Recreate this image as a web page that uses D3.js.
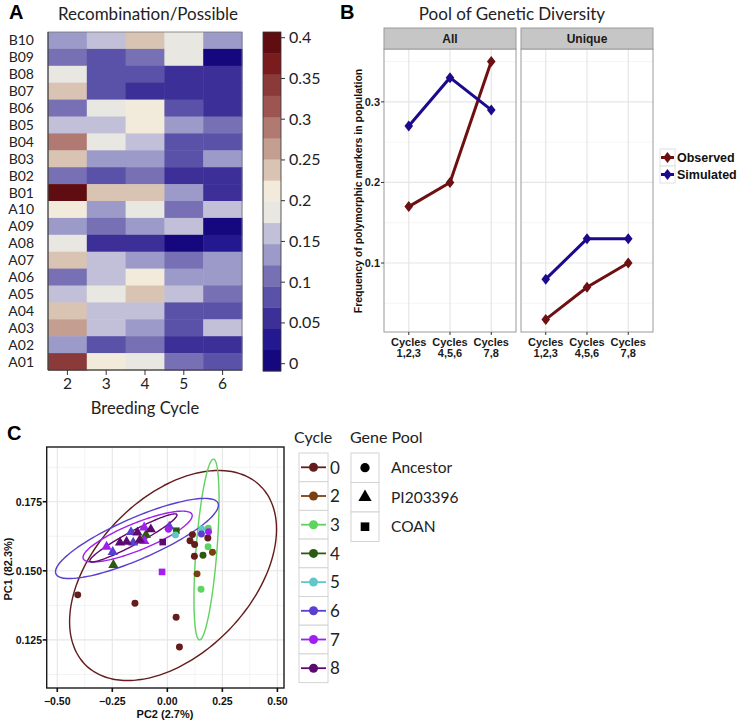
<!DOCTYPE html>
<html>
<head>
<meta charset="utf-8">
<script src="https://cdn.jsdelivr.net/npm/d3@7"></script>
<style>
body { margin: 0; background: #fff; }
svg { display: block; }
</style>
</head>
<body>
<script>
// ---------- panel A data ----------
let heatRows = ["B10","B09","B08","B07","B06","B05","B04","B03","B02","B01",
                "A10","A09","A08","A07","A06","A05","A04","A03","A02","A01"];
let heatCycles = ["2","3","4","5","6"];
let heatValues = [
  [0.13, 0.16, 0.24, 0.19, 0.13],
  [0.11, 0.08, 0.11, 0.19, 0.00],
  [0.19, 0.08, 0.08, 0.06, 0.06],
  [0.24, 0.08, 0.06, 0.06, 0.06],
  [0.11, 0.19, 0.21, 0.08, 0.06],
  [0.16, 0.16, 0.21, 0.13, 0.11],
  [0.29, 0.19, 0.16, 0.08, 0.08],
  [0.24, 0.13, 0.13, 0.08, 0.13],
  [0.11, 0.08, 0.11, 0.06, 0.06],
  [0.40, 0.24, 0.24, 0.13, 0.06],
  [0.21, 0.13, 0.19, 0.11, 0.16],
  [0.13, 0.11, 0.13, 0.16, 0.00],
  [0.19, 0.06, 0.06, 0.00, 0.03],
  [0.24, 0.16, 0.13, 0.11, 0.13],
  [0.11, 0.16, 0.21, 0.13, 0.13],
  [0.16, 0.19, 0.24, 0.16, 0.11],
  [0.24, 0.16, 0.16, 0.08, 0.08],
  [0.26, 0.16, 0.13, 0.08, 0.16],
  [0.13, 0.08, 0.11, 0.06, 0.06],
  [0.34, 0.21, 0.19, 0.11, 0.08]
];
let heatColors = ["#15087e","#231890","#3c2f98","#5a52a8","#7870b4","#9c9ac8","#c2c0d8","#e8e7e2",
                  "#f2ebdc","#d9c4b4","#c49e90","#b07a72","#9c5550","#8b3a3a","#7a1c1e","#5f0d10"];
let colorTicks = [0, 0.05, 0.1, 0.15, 0.2, 0.25, 0.3, 0.35, 0.4];

// ---------- panel B data ----------
let facets = ["All", "Unique"];
let periods = ["1,2,3", "4,5,6", "7,8"];
let observedAll = [0.17, 0.20, 0.35];
let simulatedAll = [0.27, 0.33, 0.29];
let observedUnique = [0.03, 0.07, 0.10];
let simulatedUnique = [0.08, 0.13, 0.13];
let freqTicks = [0.1, 0.2, 0.3];

// ---------- panel C data ----------
let cycleNames = ["0","2","3","4","5","6","7","8"];
let cycleColors = ["#641c1c","#7b4012","#5fd35f","#2b5a10","#63c7c7","#5a3fd0","#a020f0","#5c0a6e"];
let poolNames = ["Ancestor","PI203396","COAN"];
let pcaCycle = ["0","0","0","0","0","0","0","0","0",
                "2","2",
                "3","3","3",
                "4","4","4","4",
                "5","5",
                "6","6","6","6","6",
                "7","7","7","7","7","7",
                "8","8","8","8","8","8"];
let pcaPool = ["Ancestor","Ancestor","Ancestor","Ancestor","Ancestor","Ancestor","Ancestor","Ancestor","Ancestor",
               "Ancestor","Ancestor",
               "Ancestor","Ancestor","Ancestor",
               "Ancestor","PI203396","PI203396","COAN",
               "Ancestor","Ancestor",
               "Ancestor","PI203396","PI203396","PI203396","PI203396",
               "Ancestor","Ancestor","PI203396","PI203396","PI203396","COAN",
               "PI203396","PI203396","PI203396","PI203396","PI203396","COAN"];
let pcaPC2 = [-0.407, -0.147, 0.040, 0.055, 0.114, 0.103, 0.124, 0.123, 0.184,
              0.205, 0.135,
              0.153, 0.185, 0.186,
              0.162, -0.097, -0.245, 0.041,
              0.156, 0.037,
              0.155, -0.248, -0.155, -0.165, 0.009,
              0.187, 0.005, -0.105, -0.105, -0.276, -0.024,
              -0.215, -0.185, -0.136, -0.075, -0.125, -0.021];
let pcaPC1 = [0.1413, 0.1383, 0.1332, 0.1224, 0.1631, 0.1609, 0.1595, 0.1553, 0.1619,
              0.1567, 0.1489,
              0.1433, 0.1587, 0.1654,
              0.1556, 0.1630, 0.1521, 0.1645,
              0.1651, 0.1630,
              0.1633, 0.1568, 0.1602, 0.1640, 0.1660,
              0.1641, 0.1650, 0.1657, 0.1608, 0.1587, 0.1496,
              0.1602, 0.1605, 0.1639, 0.1650, 0.1612, 0.1604];
// confidence ellipses: centre, half ranges, correlation
let ellCycle = ["0", "3", "6", "7", "8"];
let ellCx = [0.026, 0.178, -0.138, -0.135, -0.154];
let ellCy = [0.1483, 0.1577, 0.1617, 0.1624, 0.1619];
let ellRx = [0.470, 0.057, 0.370, 0.248, 0.198];
let ellRy = [0.0380, 0.0327, 0.0145, 0.0092, 0.0087];
let ellRho = [0.44, 0.55, 0.83, 0.82, 0.95];
let pc2Ticks = [-0.5, -0.25, 0, 0.25, 0.5];
let pc1Ticks = [0.125, 0.15, 0.175];

let svg = d3.select("body").append("svg").attr("width", 744).attr("height", 721);
svg.append("rect").attr("width", 744).attr("height", 721).attr("fill", "white");

let sans = "Lato, 'Open Sans', sans-serif";
let bold = "'Liberation Sans', Arial, sans-serif";

// ================= Panel A =================
let gA = svg.append("g");
gA.append("text").attr("x", 9).attr("y", 19).text("A")
  .attr("font-family", bold).attr("font-weight", "bold").attr("font-size", 20);
gA.append("text").attr("x", 148).attr("y", 20).attr("text-anchor", "middle")
  .attr("font-family", sans).attr("font-size", 17).attr("fill", "#222").text("Recombination/Possible");

let xA = d3.scaleBand().domain(heatCycles).range([48, 242]);
let yA = d3.scaleBand().domain(heatRows).range([32, 370]);
let colorA = d3.scaleQuantize().domain([-0.009, 0.407]).range(heatColors);

let cells = [];
heatRows.forEach(function(r, i){
    heatCycles.forEach(function(c, j){
        cells.push({row: r, cycle: c, v: heatValues[i][j]});
    });
});
gA.selectAll("rect.cell").data(cells).enter().append("rect")
    .attr("class", "cell")
    .attr("x", function(d){ return xA(d.cycle); })
    .attr("y", function(d){ return yA(d.row); })
    .attr("width", xA.bandwidth() + 0.5)
    .attr("height", yA.bandwidth() + 0.5)
    .attr("fill", function(d){ return colorA(d.v); });
gA.append("rect").attr("x", 48).attr("y", 32).attr("width", 194).attr("height", 338)
    .attr("fill", "none").attr("stroke", "#777").attr("stroke-width", 0.8);
gA.append("line").attr("x1", 48).attr("x2", 48).attr("y1", 32).attr("y2", 370).attr("stroke", "#333");
gA.append("line").attr("x1", 48).attr("x2", 242).attr("y1", 370).attr("y2", 370).attr("stroke", "#333");

gA.selectAll("text.rowlab").data(heatRows).enter().append("text")
    .attr("class", "rowlab")
    .attr("x", 34).attr("y", function(d){ return yA(d) + yA.bandwidth()/2 + 5; })
    .attr("text-anchor", "end").attr("font-family", sans).attr("font-size", 14).attr("fill", "#222")
    .text(function(d){ return d; });
gA.selectAll("line.xt").data(heatCycles).enter().append("line")
    .attr("class", "xt")
    .attr("x1", function(d){ return xA(d) + xA.bandwidth()/2; })
    .attr("x2", function(d){ return xA(d) + xA.bandwidth()/2; })
    .attr("y1", 370).attr("y2", 375).attr("stroke", "#333");
gA.selectAll("text.collab").data(heatCycles).enter().append("text")
    .attr("class", "collab")
    .attr("x", function(d){ return xA(d) + xA.bandwidth()/2; })
    .attr("y", 389).attr("text-anchor", "middle")
    .attr("font-family", sans).attr("font-size", 15.5).attr("fill", "#222")
    .text(function(d){ return d; });
gA.append("text").attr("x", 145).attr("y", 414).attr("text-anchor", "middle")
    .attr("font-family", sans).attr("font-size", 16.5).attr("fill", "#222").text("Breeding Cycle");

// colour bar
let yBar = d3.scaleLinear().domain([-0.009, 0.407]).range([371, 32]);
gA.selectAll("rect.band").data(heatColors).enter().append("rect")
    .attr("class", "band")
    .attr("x", 263).attr("width", 18)
    .attr("y", function(d){ return yBar(colorA.invertExtent(d)[1]); })
    .attr("height", function(d){ let e = colorA.invertExtent(d); return yBar(e[0]) - yBar(e[1]) + 0.4; })
    .attr("fill", function(d){ return d; });
gA.append("rect").attr("x", 263).attr("y", 32).attr("width", 18).attr("height", 339)
    .attr("fill", "none").attr("stroke", "#333").attr("stroke-width", 0.8);
gA.selectAll("line.ct").data(colorTicks).enter().append("line")
    .attr("class", "ct")
    .attr("x1", 281).attr("x2", 285)
    .attr("y1", function(d){ return yBar(d); }).attr("y2", function(d){ return yBar(d); })
    .attr("stroke", "#333");
gA.selectAll("text.cl").data(colorTicks).enter().append("text")
    .attr("class", "cl")
    .attr("x", 289).attr("y", function(d){ return yBar(d) + 5.5; })
    .attr("font-family", sans).attr("font-size", 16).attr("fill", "#222")
    .text(function(d){ return d; });

// ================= Panel B =================
let gB = svg.append("g");
gB.append("text").attr("x", 340).attr("y", 19).text("B")
  .attr("font-family", bold).attr("font-weight", "bold").attr("font-size", 20);
gB.append("text").attr("x", 512).attr("y", 20).attr("text-anchor", "middle")
  .attr("font-family", sans).attr("font-size", 17).attr("fill", "#222").text("Pool of Genetic Diversity");

let yB = d3.scaleLinear().domain([0.0144, 0.3656]).range([332, 49]);
let panelX = {All: [384, 516], Unique: [521, 653]};
let seriesB = {
    All: [{name: "Observed", values: observedAll, color: "#6e0f12"},
          {name: "Simulated", values: simulatedAll, color: "#1b0b8c"}],
    Unique: [{name: "Observed", values: observedUnique, color: "#6e0f12"},
             {name: "Simulated", values: simulatedUnique, color: "#1b0b8c"}]
};
let diamond = "M0,-5.5L4.3,0L0,5.5L-4.3,0Z";
let minorTicks = [0.05, 0.15, 0.25, 0.35];

facets.forEach(function(f){
    let x0 = panelX[f][0], x1 = panelX[f][1];
    let xB = d3.scalePoint().domain(periods).range([x0, x1]).padding(0.6);
    let g = gB.append("g");
    g.append("rect").attr("x", x0).attr("y", 49).attr("width", x1 - x0).attr("height", 283).attr("fill", "white");
    g.selectAll("line.mn").data(minorTicks).enter().append("line")
        .attr("x1", x0).attr("x2", x1)
        .attr("y1", function(d){ return yB(d); }).attr("y2", function(d){ return yB(d); })
        .attr("stroke", "#f2f2f2").attr("stroke-width", 0.8);
    g.selectAll("line.mj").data(freqTicks).enter().append("line")
        .attr("x1", x0).attr("x2", x1)
        .attr("y1", function(d){ return yB(d); }).attr("y2", function(d){ return yB(d); })
        .attr("stroke", "#e6e6e6").attr("stroke-width", 1.2);
    g.selectAll("line.vx").data(periods).enter().append("line")
        .attr("x1", function(d){ return xB(d); }).attr("x2", function(d){ return xB(d); })
        .attr("y1", 49).attr("y2", 332)
        .attr("stroke", "#e6e6e6").attr("stroke-width", 1.2);
    let line = d3.line().x(function(d, i){ return xB(periods[i]); }).y(function(d){ return yB(d); });
    seriesB[f].forEach(function(s){
        g.append("path").attr("d", line(s.values)).attr("fill", "none")
            .attr("stroke", s.color).attr("stroke-width", 3);
        g.selectAll(null).data(s.values).enter().append("path")
            .attr("d", diamond)
            .attr("transform", function(d, i){ return "translate(" + xB(periods[i]) + "," + yB(d) + ")"; })
            .attr("fill", s.color);
    });
    g.append("rect").attr("x", x0).attr("y", 49).attr("width", x1 - x0).attr("height", 283)
        .attr("fill", "none").attr("stroke", "#9a9a9a").attr("stroke-width", 1);
    // strip
    g.append("rect").attr("x", x0).attr("y", 28).attr("width", x1 - x0).attr("height", 21)
        .attr("fill", "#c6c6c6").attr("stroke", "#9a9a9a").attr("stroke-width", 1);
    g.append("text").attr("x", (x0 + x1)/2).attr("y", 43).attr("text-anchor", "middle")
        .attr("font-family", bold).attr("font-weight", "bold").attr("font-size", 12).attr("fill", "#1a1a1a")
        .text(f);
    // x axis
    g.selectAll("line.xt").data(periods).enter().append("line")
        .attr("x1", function(d){ return xB(d); }).attr("x2", function(d){ return xB(d); })
        .attr("y1", 332).attr("y2", 335).attr("stroke", "#333");
    let lab = g.selectAll("text.xl").data(periods).enter().append("text")
        .attr("text-anchor", "middle").attr("font-family", bold).attr("font-weight", "bold")
        .attr("font-size", 11).attr("fill", "#1a1a1a");
    lab.append("tspan").attr("x", function(d){ return xB(d); }).attr("y", 346).text("Cycles");
    lab.append("tspan").attr("x", function(d){ return xB(d); }).attr("y", 357).text(function(d){ return d; });
});
// y axis of B
gB.selectAll("line.yt").data(freqTicks).enter().append("line")
    .attr("x1", 381).attr("x2", 384)
    .attr("y1", function(d){ return yB(d); }).attr("y2", function(d){ return yB(d); })
    .attr("stroke", "#333");
gB.selectAll("text.yl").data(freqTicks).enter().append("text")
    .attr("x", 380).attr("y", function(d){ return yB(d) + 4; }).attr("text-anchor", "end")
    .attr("font-family", bold).attr("font-weight", "bold").attr("font-size", 11).attr("fill", "#1a1a1a")
    .text(function(d){ return d; });
gB.append("text").attr("transform", "translate(362,191) rotate(-90)").attr("text-anchor", "middle")
    .attr("font-family", bold).attr("font-weight", "bold").attr("font-size", 10.5).attr("fill", "#111")
    .text("Frequency of polymorphic markers in population");
// legend of B
seriesB.All.forEach(function(s, i){
    let yy = 149 + i * 17;
    gB.append("rect").attr("x", 660).attr("y", yy).attr("width", 15).attr("height", 17)
        .attr("fill", "white").attr("stroke", "#e0e0e0");
    gB.append("line").attr("x1", 661).attr("x2", 674).attr("y1", yy + 8.5).attr("y2", yy + 8.5)
        .attr("stroke", s.color).attr("stroke-width", 3);
    gB.append("path").attr("d", diamond).attr("transform", "translate(667.5," + (yy + 8.5) + ")").attr("fill", s.color);
    gB.append("text").attr("x", 677).attr("y", yy + 13).attr("font-family", bold).attr("font-weight", "bold")
        .attr("font-size", 12.5).attr("fill", "#111").text(s.name);
});

// ================= Panel C =================
let gC = svg.append("g");
gC.append("text").attr("x", 7).attr("y", 440).text("C")
  .attr("font-family", bold).attr("font-weight", "bold").attr("font-size", 20);

let xC = d3.scaleLinear().domain([-0.548, 0.53]).range([46.7, 284]);
let yC = d3.scaleLinear().domain([0.1076, 0.1948]).range([688, 447]);
let cycColor = d3.scaleOrdinal().domain(cycleNames).range(cycleColors);

let pc2Minor = [-0.375, -0.125, 0.125, 0.375];
let pc1Minor = [0.1125, 0.1375, 0.1625, 0.1875];
gC.selectAll("line.gx").data(pc2Minor).enter().append("line")
    .attr("x1", function(d){ return xC(d); }).attr("x2", function(d){ return xC(d); })
    .attr("y1", 447).attr("y2", 688).attr("stroke", "#f3f3f3");
gC.selectAll("line.gy").data(pc1Minor).enter().append("line")
    .attr("y1", function(d){ return yC(d); }).attr("y2", function(d){ return yC(d); })
    .attr("x1", 46.7).attr("x2", 284).attr("stroke", "#f3f3f3");
gC.selectAll("line.gX").data(pc2Ticks).enter().append("line")
    .attr("x1", function(d){ return xC(d); }).attr("x2", function(d){ return xC(d); })
    .attr("y1", 447).attr("y2", 688).attr("stroke", "#e6e6e6").attr("stroke-width", 1.1);
gC.selectAll("line.gY").data(pc1Ticks).enter().append("line")
    .attr("y1", function(d){ return yC(d); }).attr("y2", function(d){ return yC(d); })
    .attr("x1", 46.7).attr("x2", 284).attr("stroke", "#e6e6e6").attr("stroke-width", 1.1);

// ellipses
let angles = d3.range(0, 361, 3).map(function(a){ return a * Math.PI / 180; });
ellCycle.forEach(function(c, k){
    let phi = Math.acos(ellRho[k]);
    let pts = angles.map(function(t){
        return [xC(ellCx[k] + ellRx[k] * Math.cos(t)), yC(ellCy[k] + ellRy[k] * Math.cos(t - phi))];
    });
    gC.append("path").attr("d", d3.line().curve(d3.curveCardinalClosed)(pts.slice(0, -1)))
        .attr("fill", "none").attr("stroke", cycColor(c)).attr("stroke-width", 1.4);
});

// points
let shapeFor = {Ancestor: d3.symbolCircle, PI203396: d3.symbolTriangle, COAN: d3.symbolSquare};
let sizeFor = {Ancestor: 38, PI203396: 46, COAN: 44};
let pts = pcaPC2.map(function(v, i){ return {pc2: v, pc1: pcaPC1[i], cycle: pcaCycle[i], pool: pcaPool[i]}; });
gC.selectAll("path.pt").data(pts).enter().append("path")
    .attr("class", "pt")
    .attr("d", function(d){ return d3.symbol().type(shapeFor[d.pool]).size(sizeFor[d.pool])(); })
    .attr("transform", function(d){ return "translate(" + xC(d.pc2) + "," + yC(d.pc1) + ")"; })
    .attr("fill", function(d){ return cycColor(d.cycle); });

gC.append("rect").attr("x", 46.7).attr("y", 447).attr("width", 237.3).attr("height", 241)
    .attr("fill", "none").attr("stroke", "#1a1a1a").attr("stroke-width", 1.4);

gC.selectAll("line.xt").data(pc2Ticks).enter().append("line")
    .attr("x1", function(d){ return xC(d); }).attr("x2", function(d){ return xC(d); })
    .attr("y1", 688).attr("y2", 692).attr("stroke", "#111").attr("stroke-width", 1.6);
gC.selectAll("text.xl").data(pc2Ticks).enter().append("text")
    .attr("x", function(d){ return xC(d); }).attr("y", 705).attr("text-anchor", "middle")
    .attr("font-family", bold).attr("font-weight", "bold").attr("font-size", 10.5).attr("fill", "#111")
    .text(function(d){ return d3.format(".2f")(d); });
gC.selectAll("line.yt").data(pc1Ticks).enter().append("line")
    .attr("y1", function(d){ return yC(d); }).attr("y2", function(d){ return yC(d); })
    .attr("x1", 42.7).attr("x2", 46.7).attr("stroke", "#111").attr("stroke-width", 1.6);
gC.selectAll("text.yl").data(pc1Ticks).enter().append("text")
    .attr("x", 42).attr("y", function(d){ return yC(d) + 4; }).attr("text-anchor", "end")
    .attr("font-family", bold).attr("font-weight", "bold").attr("font-size", 10.5).attr("fill", "#111")
    .text(function(d){ return d3.format(".3f")(d); });
gC.append("text").attr("x", 165).attr("y", 718).attr("text-anchor", "middle")
    .attr("font-family", bold).attr("font-weight", "bold").attr("font-size", 11).attr("fill", "#111")
    .text("PC2 (2.7%)");
gC.append("text").attr("transform", "translate(12,569) rotate(-90)").attr("text-anchor", "middle")
    .attr("font-family", bold).attr("font-weight", "bold").attr("font-size", 11).attr("fill", "#111")
    .text("PC1 (82.3%)");

// Cycle legend
gC.append("text").attr("x", 294).attr("y", 443).attr("font-family", sans).attr("font-size", 16)
    .attr("fill", "#222").text("Cycle");
cycleNames.forEach(function(c, i){
    let yy = 453 + i * 28.7;
    gC.append("rect").attr("x", 299).attr("y", yy).attr("width", 29).attr("height", 28.7)
        .attr("fill", "white").attr("stroke", "#d4d4d4");
    gC.append("line").attr("x1", 301).attr("x2", 326).attr("y1", yy + 14.3).attr("y2", yy + 14.3)
        .attr("stroke", cycColor(c)).attr("stroke-width", 1.8);
    gC.append("circle").attr("cx", 313.5).attr("cy", yy + 14.3).attr("r", 4.5).attr("fill", cycColor(c));
    gC.append("text").attr("x", 330).attr("y", yy + 20.5).attr("font-family", sans).attr("font-size", 17)
        .attr("fill", "#222").text(c);
});
// Gene Pool legend
gC.append("text").attr("x", 350).attr("y", 443).attr("font-family", sans).attr("font-size", 16)
    .attr("fill", "#222").text("Gene Pool");
poolNames.forEach(function(p, i){
    let yy = 453 + i * 29.5;
    gC.append("rect").attr("x", 351).attr("y", yy).attr("width", 28).attr("height", 29.5)
        .attr("fill", "white").attr("stroke", "#d4d4d4");
    gC.append("path").attr("d", d3.symbol().type(shapeFor[p]).size(sizeFor[p] + 30)())
        .attr("transform", "translate(365," + (yy + 14.7) + ")").attr("fill", "#000");
    gC.append("text").attr("x", 391).attr("y", yy + 20).attr("font-family", sans).attr("font-size", 15.5)
        .attr("fill", "#222").text(p);
});
</script>
</body>
</html>
